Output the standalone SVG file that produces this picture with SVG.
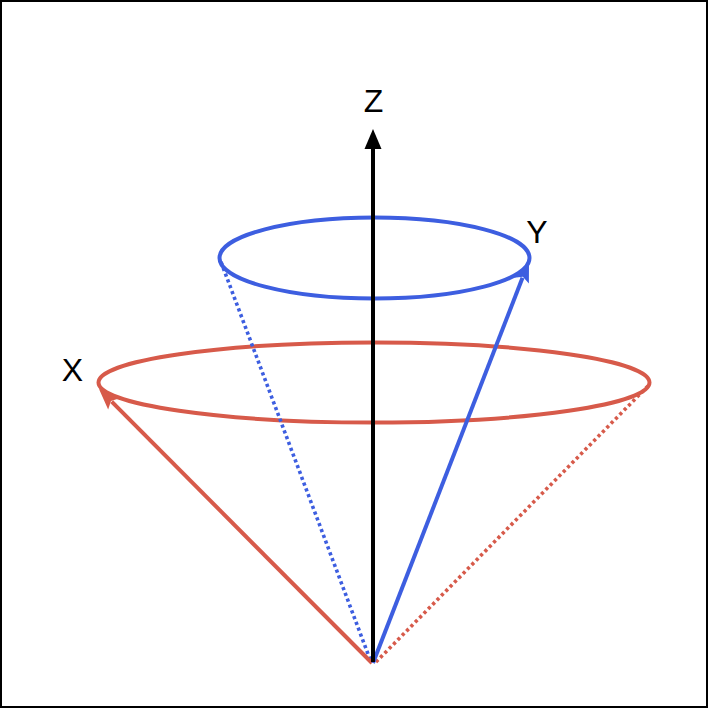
<svg xmlns="http://www.w3.org/2000/svg" width="708" height="708" viewBox="0 0 708 708">
  <style>
    .lbl { font-family: "Liberation Sans", Arial, sans-serif; font-size: 32px; fill: #000; text-anchor: middle; }
    .ring { fill: none; stroke-width: 4; }
    .red { stroke: #D75A4A; }
    .blue { stroke: #3D5EE0; }
    .dot { stroke-width: 3.6; stroke-dasharray: 3.2 3; fill: none; }
    .solid { stroke-width: 4; fill: none; }
  </style>
  <defs>
    <marker id="headBlack" markerUnits="userSpaceOnUse" markerWidth="24" markerHeight="24" viewBox="0 -12 24 24" refX="0" refY="0" orient="auto" overflow="visible">
      <path d="M0,-8.5 L20,0 L0,8.5 Z" fill="#000"/>
    </marker>
    <marker id="headRed" markerUnits="userSpaceOnUse" markerWidth="24" markerHeight="24" viewBox="0 -12 24 24" refX="0" refY="0" orient="auto" overflow="visible">
      <path d="M-3,-8 L18,0 L-3,8 L1,0 Z" fill="#D75A4A"/>
    </marker>
    <marker id="headBlue" markerUnits="userSpaceOnUse" markerWidth="24" markerHeight="24" viewBox="0 -12 24 24" refX="0" refY="0" orient="auto" overflow="visible">
      <path d="M-3,-8 L18,0 L-3,8 L1,0 Z" fill="#3D5EE0"/>
    </marker>
  </defs>
  <rect x="1" y="1" width="706" height="706" fill="#fff" stroke="#000" stroke-width="2"/>

  <g id="cone-blue-ring">
    <ellipse class="ring blue" cx="374.5" cy="258" rx="155" ry="40.5"/>
  </g>
  <g id="cone-red-ring">
    <ellipse class="ring red" cx="374" cy="382.5" rx="275.5" ry="40"/>
  </g>

  <g id="connectors">
    <line class="dot blue" x1="221" y1="262" x2="371" y2="662"/>
    <line class="dot red" x1="648" y1="386" x2="374" y2="664"/>
    <line class="solid red" x1="372" y1="663" x2="111.7" y2="401.7" marker-end="url(#headRed)"/>
    <line class="solid blue" x1="373" y1="663" x2="522.5" y2="277.8" marker-end="url(#headBlue)"/>
    <line x1="373" y1="662" x2="373" y2="149" stroke="#000" stroke-width="4" marker-end="url(#headBlack)"/>
  </g>

  <g id="label-z"><text class="lbl" x="373.5" y="112">Z</text></g>
  <g id="label-y"><text class="lbl" x="537" y="243">Y</text></g>
  <g id="label-x"><text class="lbl" x="72.5" y="381">X</text></g>
</svg>
